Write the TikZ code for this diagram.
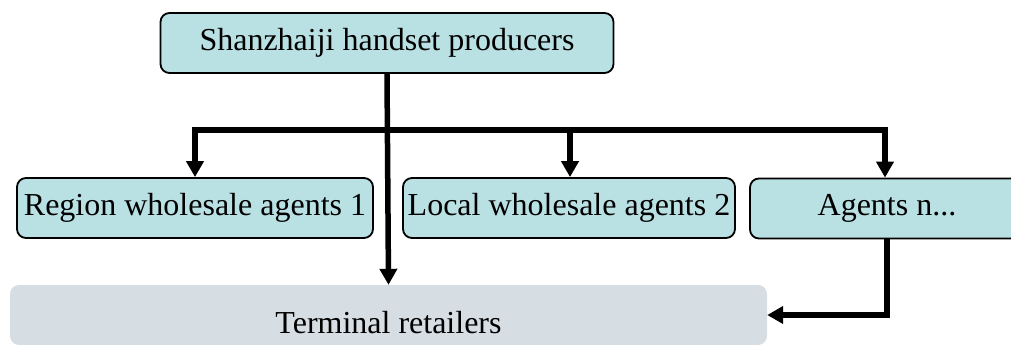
\documentclass[tikz,border=0pt]{standalone}
\usepackage{fontspec}
\setmainfont{Liberation Serif}
\usetikzlibrary{arrows.meta,calc}
\definecolor{boxcyan}{HTML}{B9E0E3}
\definecolor{boxgrey}{HTML}{D6DEE4}
\tikzset{
  cbox/.style={draw=black, line width=1.8pt, fill=boxcyan, rounded corners=9pt,
    minimum height=60pt, inner sep=0pt, font=\fontsize{32}{36}\selectfont},
  gbox/.style={fill=boxgrey, rounded corners=9pt, inner sep=0pt},
  lbl/.style={font=\fontsize{32}{36}\selectfont, inner sep=0pt},
  conn/.style={line width=5.5pt, line cap=rect},
  arr/.style={line width=5.5pt, -{Triangle[width=17pt,length=16pt]}}
}
\begin{document}
\begin{tikzpicture}[x=1pt,y=-1pt]
\useasboundingbox (0,0) rectangle (1011,345);
\clip (0,0) rectangle (1011,345);
\node[cbox, minimum width=453pt] (top) at (387,43) {Shanzhaiji handset producers};
\node[cbox, minimum width=356pt] (r1) at (195,208) {Region wholesale agents 1};
\node[cbox, minimum width=332pt] (r2) at (569,208) {Local wholesale agents 2};
\node[cbox, minimum width=274pt] (rn) at (887,208.5) {Agents n...};
\node[gbox, minimum width=757pt, minimum height=60pt] (term) at (388.5,315) {};
\node[lbl] (termlabel) at ($(term.center)+(0,8)$) {Terminal retailers};
\coordinate (b1) at (195,130);
\coordinate (b2) at (570,130);
\coordinate (b3) at (885,130);
\draw[conn] (b1) -- (b3);
\draw[arr] (top.south) -- (term.north);
\draw[arr] (b1) -- (b1 |- r1.north);
\draw[arr] (b2) -- (b2 |- r2.north);
\draw[arr] (b3) -- (b3 |- rn.north);
\draw[arr] (rn.south) |- (term.east);
\end{tikzpicture}
\end{document}
